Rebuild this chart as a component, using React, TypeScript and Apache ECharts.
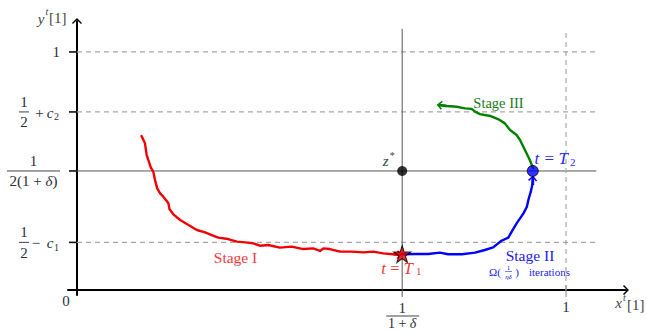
import { useEffect, useRef } from "react";
import * as echarts from "echarts";

// ---- data (axis units: x in units of x^t[1], y in units of y^t[1]) ----
const yTickValues = [1, 0.748, 0.5, 0.2];
const xTickValues = [0.665, 1];
const dashedLevels = [1, 0.748, 0.2];
const solidLevel = 0.5;
const hLineEnd = 1.067;
const solidLineEnd = 1.062;
const vLineTop = 1.097;
const vDashTop = 1.088;
const tickBelow = -0.029;
const tickAbove = 0.021;

const zStarPoint = [[0.665, 0.5]];
const T1Point = [[0.665, 0.151]];
const T2Point = [[0.932, 0.5]];

const stageI = [
  [0.132, 0.647], [0.139, 0.616], [0.1425, 0.567], [0.146, 0.546], [0.151, 0.514],
  [0.156, 0.497], [0.1595, 0.462], [0.164, 0.427], [0.17, 0.406], [0.1765, 0.392],
  [0.187, 0.364], [0.189, 0.34], [0.197, 0.318], [0.211, 0.294], [0.228, 0.273],
  [0.245, 0.252], [0.262, 0.242], [0.2755, 0.231], [0.289, 0.22], [0.309, 0.214],
  [0.327, 0.203], [0.344, 0.2], [0.3605, 0.196], [0.374, 0.186], [0.391, 0.189],
  [0.415, 0.178], [0.439, 0.182], [0.463, 0.172], [0.483, 0.175], [0.497, 0.164],
  [0.504, 0.175], [0.517, 0.172], [0.538, 0.161], [0.562, 0.161], [0.5855, 0.158],
  [0.606, 0.161], [0.626, 0.154], [0.647, 0.15], [0.66, 0.148],
];

const stageII = [
  [0.665, 0.15], [0.691, 0.151], [0.718, 0.151], [0.742, 0.157], [0.759, 0.15],
  [0.787, 0.15], [0.814, 0.157], [0.834, 0.168], [0.851, 0.179], [0.868, 0.207],
  [0.882, 0.22], [0.889, 0.245], [0.899, 0.28], [0.913, 0.322], [0.92, 0.35],
  [0.923, 0.378], [0.928, 0.413], [0.931, 0.441], [0.932, 0.47],
];

const stageIII = [
  [0.933, 0.511], [0.926, 0.546], [0.916, 0.588], [0.906, 0.63], [0.899, 0.651],
  [0.8855, 0.672], [0.875, 0.7], [0.862, 0.717], [0.845, 0.731], [0.824, 0.739],
  [0.814, 0.749], [0.807, 0.761], [0.7935, 0.763], [0.7765, 0.77], [0.756, 0.773],
  [0.741, 0.777],
];

const FONT = '"Liberation Serif", "DejaVu Serif", serif';
const AXIS_ARROW = "path://M0,5 L5,0 L10,5 L9,6 L5,2 L1,6 Z";
const CURVE_ARROW = "path://M5,0 M5,10 M0,7.2 L5,2 L10,7.2 L8.8,8.4 L5,4.4 L1.2,8.4 Z";
const STAR =
  "path://M50,2 L61.8,38.2 L99.9,38.2 L69.1,60.6 L80.9,96.9 L50,74.5 L19.1,96.9 L30.9,60.6 L0.1,38.2 L38.2,38.2 Z";

const RED = "#f00000";
const BLUE = "#0000ff";
const GREEN = "#008000";

function txt(text: string, x: number, y: number, size: number, o: any = {}) {
  const align = o.align || "center";
  return {
    type: "text",
    x,
    y,
    silent: true,
    z: 100,
    style: {
      text,
      fill: o.fill || "#2b2f3a",
      font: `${o.italic ? "italic " : ""}${size}px ${FONT}`,
      align,
      textAlign: align,
      verticalAlign: "middle",
      textVerticalAlign: "middle",
      rich: o.rich,
    },
  };
}

function bar(x1: number, x2: number, y: number, color = "#2b2f3a", w = 0.9) {
  return {
    type: "line",
    silent: true,
    z: 100,
    shape: { x1, y1: y, x2, y2: y },
    style: { stroke: color, lineWidth: w },
  };
}

function curveArrow(points: number[][], color: string, size: number) {
  const n = points.length;
  return {
    type: "lines",
    coordinateSystem: "cartesian2d",
    polyline: false,
    silent: true,
    z: 6,
    symbol: ["none", CURVE_ARROW],
    symbolSize: size,
    lineStyle: { color, width: 2.3, opacity: 1 },
    data: [{ coords: [points[n - 2], points[n - 1]] }],
  };
}

export default function App() {
  const ref = useRef<HTMLDivElement>(null);
  useEffect(() => {
    const chart = echarts.init(ref.current!, undefined, { renderer: "svg" });
    const series: any[] = [];
    dashedLevels.forEach((v) =>
      series.push({
        type: "line",
        data: [[0, v], [hLineEnd, v]],
        symbol: "none",
        silent: true,
        z: 1,
        lineStyle: { color: "#a8a8a8", width: 1.2, type: [5, 4] },
      })
    );
    series.push({
      type: "line",
      data: [[0, solidLevel], [solidLineEnd, solidLevel]],
      symbol: "none",
      silent: true,
      z: 1,
      lineStyle: { color: "#555", width: 1 },
    });
    series.push({
      type: "line",
      data: [[xTickValues[0], tickBelow], [xTickValues[0], vLineTop]],
      symbol: "none",
      silent: true,
      clip: false,
      z: 1,
      lineStyle: { color: "#555", width: 1 },
    });
    series.push({
      type: "line",
      data: [[xTickValues[1], 0], [xTickValues[1], vDashTop]],
      symbol: "none",
      silent: true,
      z: 1,
      lineStyle: { color: "#a8a8a8", width: 1.2, type: [5, 4] },
    });
    series.push({
      type: "line",
      data: [[xTickValues[1], tickBelow], [xTickValues[1], tickAbove]],
      symbol: "none",
      silent: true,
      clip: false,
      z: 1,
      lineStyle: { color: "#888", width: 1 },
    });
    const curve = (data: number[][], color: string) => ({
      type: "line",
      data,
      symbol: "none",
      silent: true,
      z: 5,
      lineStyle: { color, width: 2.4, join: "round", cap: "round" },
    });
    series.push(curve(stageI, RED));
    series.push(curve(stageII, BLUE));
    series.push(curve(stageIII, GREEN));
    series.push(curveArrow(stageI, RED, 9));
    series.push(curveArrow(stageII, BLUE, 9));
    series.push(curveArrow(stageIII, GREEN, 9));
    series.push({
      type: "scatter",
      data: zStarPoint,
      symbol: "circle",
      symbolSize: 10,
      silent: true,
      z: 10,
      itemStyle: { color: "#000" },
    });
    series.push({
      type: "scatter",
      data: T2Point,
      symbol: "circle",
      symbolSize: 11,
      silent: true,
      z: 10,
      itemStyle: { color: BLUE, borderColor: "#000", borderWidth: 1 },
    });
    series.push({
      type: "scatter",
      data: T1Point,
      symbol: STAR,
      symbolSize: 17,
      silent: true,
      z: 10,
      itemStyle: { color: RED, borderColor: "#000", borderWidth: 1.1 },
    });

    chart.setOption({
      animation: false,
      backgroundColor: "#fff",
      grid: { left: 68, right: 21, top: 21, bottom: 37, containLabel: false },
      xAxis: {
        type: "value",
        min: -0.0184,
        max: 1.1227,
        axisLine: {
          show: true,
          onZero: true,
          lineStyle: { color: "#000", width: 2 },
          symbol: ["none", AXIS_ARROW],
          symbolSize: [10, 6],
        },
        axisTick: { show: false },
        axisLabel: { show: false },
        splitLine: { show: false },
      },
      yAxis: {
        type: "value",
        min: -0.021,
        max: 1.13,
        axisLine: {
          show: true,
          onZero: true,
          lineStyle: { color: "#000", width: 2 },
          symbol: ["none", AXIS_ARROW],
          symbolSize: [10, 6],
        },
        axisTick: { show: false },
        axisLabel: { show: false },
        splitLine: { show: false },
      },
      series,
    });

    const P = (x: number, y: number) =>
      chart.convertToPixel({ gridIndex: 0 } as any, [x, y]) as number[];
    const O = P(0, 0);
    const g: any[] = [];
    const delta = { i: { fontStyle: "italic", fontSize: 15, fontFamily: FONT, fill: "#2b2f3a" } };
    const deltaS = { i: { fontStyle: "italic", fontSize: 14, fontFamily: FONT, fill: "#2b2f3a" } };

    // y ticks and labels
    yTickValues.forEach((v) => {
      const py = P(0, v)[1];
      g.push({
        type: "line",
        silent: true,
        z: 100,
        shape: { x1: O[0] - 8, y1: py, x2: O[0], y2: py },
        style: { stroke: "#111", lineWidth: 1.6 },
      });
    });
    {
      const y1 = P(0, yTickValues[0])[1];
      g.push(txt("1", O[0] - 17, y1, 15, { align: "right" }));
      const y2 = P(0, yTickValues[1])[1];
      g.push(txt("1", O[0] - 53, y2 - 10, 15));
      g.push(bar(O[0] - 58, O[0] - 48, y2));
      g.push(txt("2", O[0] - 53, y2 + 10.5, 15));
      g.push(txt("+", O[0] - 37.5, y2 + 1, 15));
      g.push(txt("c", O[0] - 27, y2 + 1, 15, { italic: true }));
      g.push(txt("2", O[0] - 20.5, y2 + 4.5, 10));
      const y3 = P(0, yTickValues[2])[1];
      g.push(txt("1", O[0] - 43.5, y3 - 10, 15));
      g.push(bar(O[0] - 70, O[0] - 17, y3));
      g.push(txt("2(1 + {i|δ})", O[0] - 43.5, y3 + 10.5, 15, { rich: delta }));
      const y4 = P(0, yTickValues[3])[1];
      g.push(txt("1", O[0] - 53, y4 - 10, 15));
      g.push(bar(O[0] - 58, O[0] - 48, y4));
      g.push(txt("2", O[0] - 53, y4 + 10.5, 15));
      g.push(txt("−", O[0] - 41, y4 + 1, 15));
      g.push(txt("c", O[0] - 27, y4 + 1, 15, { italic: true }));
      g.push(txt("1", O[0] - 20.5, y4 + 5, 10));
    }
    // x tick labels
    {
      const px1 = P(xTickValues[0], 0)[0];
      g.push(txt("1", px1, O[1] + 18, 15));
      g.push(bar(px1 - 16, px1 + 17, O[1] + 26));
      g.push(txt("1 + {i|δ}", px1, O[1] + 33.5, 14, { rich: deltaS }));
      const px2 = P(xTickValues[1], 0)[0];
      g.push(txt("1", px2, O[1] + 17, 15));
      g.push(txt("0", O[0] - 11, O[1] + 11, 15));
    }
    // axis names
    g.push(txt("y", O[0] - 36, 19, 15, { italic: true, fill: "#444" }));
    g.push(txt("t", O[0] - 30, 11, 10, { italic: true, fill: "#444" }));
    g.push(txt("[1]", O[0] - 28, 18, 15, { align: "left", fill: "#444" }));
    g.push(txt("x", 618.5, O[1] + 13, 15, { italic: true, fill: "#444" }));
    g.push(txt("t", 624.5, O[1] + 7, 10, { italic: true, fill: "#444" }));
    g.push(txt("[1]", 627, O[1] + 14.5, 15, { align: "left", fill: "#444" }));

    // annotations
    {
      const z = P(zStarPoint[0][0], zStarPoint[0][1]);
      g.push(txt("z", z[0] - 16.5, z[1] - 10, 15, { italic: true, fill: "#444" }));
      g.push(txt("*", z[0] - 10, z[1] - 15, 10, { fill: "#444" }));

      const t1 = P(T1Point[0][0], T1Point[0][1]);
      const RT = "#f03a3a";
      g.push(txt("t", t1[0] - 18.5, t1[1] + 14, 17, { italic: true, fill: RT }));
      g.push(txt("=", t1[0] - 7.5, t1[1] + 14, 17, { fill: RT }));
      g.push(txt("T", t1[0] + 6, t1[1] + 14, 17, { italic: true, fill: RT }));
      g.push(txt("1", t1[0] + 16.5, t1[1] + 17, 11, { fill: RT }));
      g.push(txt("Stage I", 235.5, 257.5, 15.5, { fill: RT }));

      const t2 = P(T2Point[0][0], T2Point[0][1]);
      const BT = "#2a2aff";
      g.push(txt("t", t2[0] + 4, t2[1] - 12, 17, { italic: true, fill: BT }));
      g.push(txt("=", t2[0] + 16.5, t2[1] - 12, 17, { fill: BT }));
      g.push(txt("T", t2[0] + 30.5, t2[1] - 12, 17, { italic: true, fill: BT }));
      g.push(txt("2", t2[0] + 40, t2[1] - 9, 11, { fill: BT }));
      g.push(txt("Stage II", 530, 255, 15.5, { fill: "#2020e8" }));
      g.push(txt("Ω(", 489, 272, 11, { align: "left", fill: "#2020e8" }));
      g.push(txt("1", 508.5, 268, 7, { fill: "#2020e8" }));
      g.push(bar(505, 512, 271.5, "#2020e8", 0.6));
      g.push(txt("ηδ", 508.5, 276.5, 7, { italic: true, fill: "#2020e8" }));
      g.push(txt(")", 517, 272, 11, { fill: "#2020e8" }));
      g.push(txt("iterations", 529, 272, 11, { align: "left", fill: "#2020e8" }));

      g.push(txt("Stage III", 498.5, 103, 14.5, { fill: "#1a7a1a" }));
    }

    chart.setOption({ graphic: g });
    return () => chart.dispose();
  }, []);
  return (
    <div
      ref={ref}
      style={{ position: "fixed", left: 0, top: 0, width: 647, height: 332, background: "#fff" }}
    />
  );
}
